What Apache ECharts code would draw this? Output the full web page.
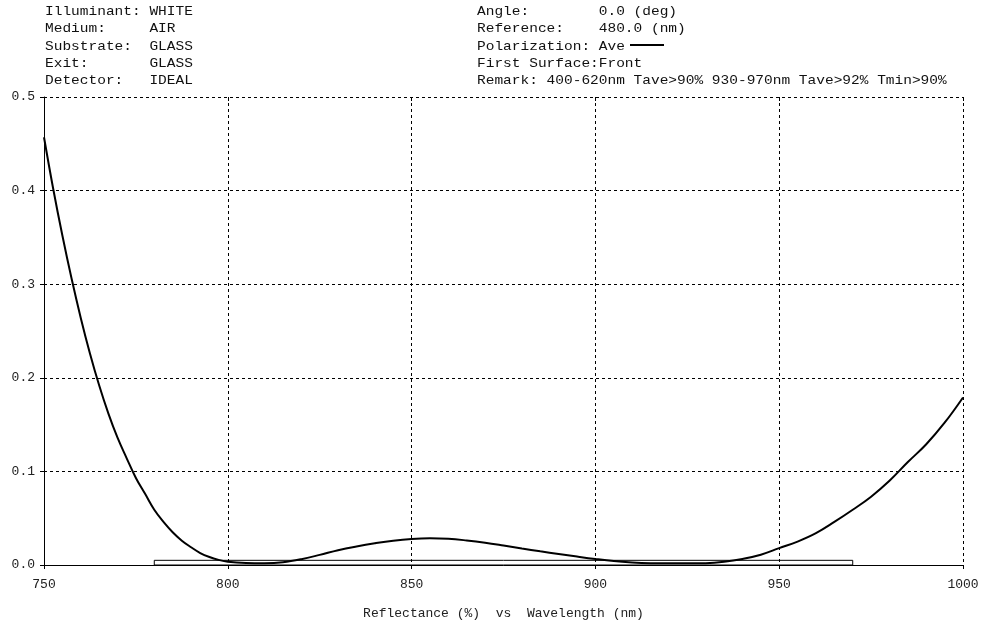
<!DOCTYPE html>
<html>
<head>
<meta charset="utf-8">
<script src="https://cdn.jsdelivr.net/npm/echarts@6/dist/echarts.min.js"></script>
<style>
html,body{margin:0;padding:0;background:#fff;}
#chart{width:1000px;height:631px;}
</style>
</head>
<body>
<div id="chart"></div>
<script>
// Wavelength (nm)
const wavelengths = [750,752.5,755,757.5,760,762.5,765,767.5,770,772.5,775,777.5,780,782.5,785,787.5,790,792.5,795,797.5,800,805,810,815,820,825,830,835,840,845,850,855,860,865,870,875,880,885,890,895,900,905,910,915,920,925,930,935,940,945,950,955,960,965,970,975,980,985,990,995,1000];
// Reflectance values
const reflectance = [0.457,0.402,0.352,0.306,0.264,0.226,0.192,0.162,0.136,0.114,0.093,0.076,0.059,0.046,0.035,0.026,0.019,0.0128,0.0085,0.0055,0.0035,0.0022,0.002,0.003,0.0062,0.0108,0.0158,0.0198,0.0232,0.0260,0.0278,0.0285,0.0280,0.0262,0.0238,0.0208,0.0176,0.0146,0.0118,0.0090,0.0064,0.0042,0.0028,0.0020,0.0018,0.0018,0.0020,0.0035,0.0065,0.011,0.018,0.025,0.034,0.046,0.059,0.073,0.090,0.110,0.129,0.152,0.179];
// Spec box
const specX = [780, 970];
const specY = [0, 0.005];
// Axis ranges
const xRange = [750, 1000, 50];
const yRange = [0, 0.5, 0.1];
// Header text
const headerLeft = ["Illuminant: WHITE","Medium:     AIR","Substrate:  GLASS","Exit:       GLASS","Detector:   IDEAL"];
const headerRight = ["Angle:        0.0 (deg)","Reference:    480.0 (nm)","Polarization: Ave","First Surface:Front","Remark: 400-620nm Tave>90% 930-970nm Tave>92% Tmin>90%"];
const axisTitle = "Reflectance (%)  vs  Wavelength (nm)";

const FONT = '"Liberation Mono", "DejaVu Sans Mono", monospace';
const chart = echarts.init(document.getElementById('chart'));
const lineYs = [11.5, 29, 46.5, 63.5, 81];
const graphics = [];
headerLeft.forEach((t, i) => graphics.push({type:'text', x:45, y:lineYs[i], scaleX:1.115,
  style:{text:t, x:0, y:0, font:'13px ' + FONT, fill:'#111', verticalAlign:'middle'}}));
headerRight.forEach((t, i) => graphics.push({type:'text', x:477, y:lineYs[i], scaleX:1.115,
  style:{text:t, x:0, y:0, font:'13px ' + FONT, fill:'#111', verticalAlign:'middle'}}));
graphics.push({type:'line', shape:{x1:630, y1:45, x2:664, y2:45}, style:{stroke:'#000', lineWidth:2}});

chart.setOption({
  animation:false,
  backgroundColor:'#fff',
  graphic: graphics,
  grid:{left:44, right:37, top:97, bottom:66},
  xAxis:[{
    type:'value', min:xRange[0], max:xRange[1], interval:xRange[2],
    axisLine:{show:true, lineStyle:{color:'#000', width:1}},
    axisTick:{show:true, length:4, lineStyle:{color:'#000'}},
    axisLabel:{margin:13, fontFamily:FONT, fontSize:13, color:'#222', formatter:v => String(v)},
    splitLine:{show:true, lineStyle:{color:'#000', type:[3,3], width:1}},
    name:axisTitle, nameLocation:'middle', nameGap:42,
    nameTextStyle:{fontFamily:FONT, fontSize:13, color:'#222'}
  },{
    type:'value', position:'top', min:xRange[0], max:xRange[1], interval:xRange[2],
    axisLine:{show:false}, axisTick:{show:true, inside:true, length:4, lineStyle:{color:'#000'}},
    axisLabel:{show:false}, splitLine:{show:false}
  }],
  yAxis:{
    type:'value', min:yRange[0], max:yRange[1], interval:yRange[2],
    axisLine:{show:true, lineStyle:{color:'#000', width:1}},
    axisTick:{show:true, length:4, lineStyle:{color:'#000'}},
    axisLabel:{margin:9, fontFamily:FONT, fontSize:13, color:'#222', formatter:v => v.toFixed(1)},
    splitLine:{show:true, lineStyle:{color:'#000', type:[3,3], width:1}}
  },
  series:[{
    type:'line',
    data: wavelengths.map((w, i) => [w, reflectance[i]]),
    showSymbol:false, smooth:0.4,
    lineStyle:{color:'#000', width:2},
    markArea:{
      silent:true,
      itemStyle:{color:'rgba(255,255,255,0)', borderColor:'#000', borderWidth:1},
      data:[[{coord:[specX[0], specY[0]]},{coord:[specX[1], specY[1]]}]]
    }
  }]
});
</script>
</body>
</html>
